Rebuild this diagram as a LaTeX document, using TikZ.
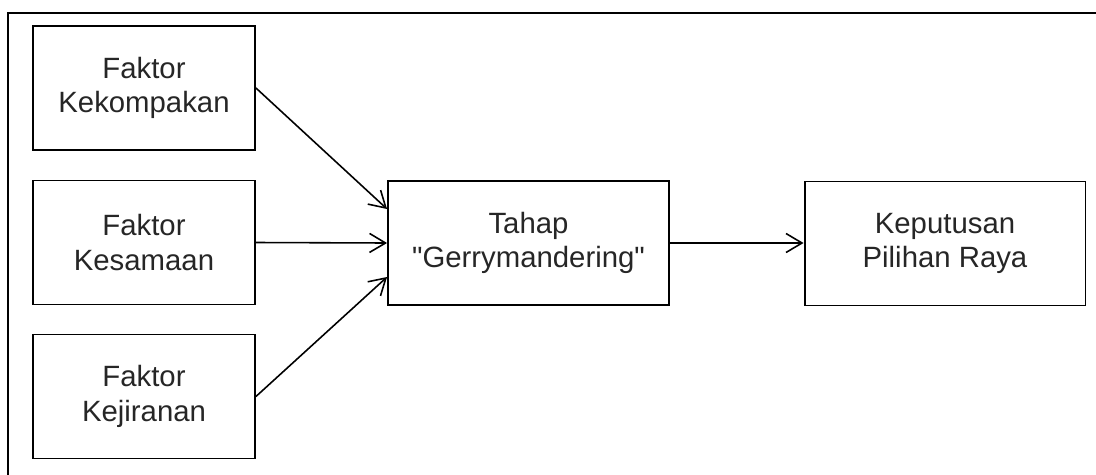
\documentclass[tikz,border=0pt]{standalone}
\usepackage{fontspec}
\setmainfont{Liberation Sans}[Ligatures=TeXOff]
\usetikzlibrary{arrows.meta}
\tikzset{
  box/.style = {rectangle, draw, line width=1.1pt, align = center,
                minimum width = 4.44cm, minimum height = 2.48cm,
                inner sep = 0pt, text = black!85,
                font = \fontsize{16.7}{19.6}\selectfont},
  wide/.style = {box, minimum width = 5.62cm},
  arr/.style  = {-{Straight Barb[length=3.2mm,width=3.8mm,line width=0.9pt]},
                 line width=0.9pt}
}
\begin{document}
\begin{tikzpicture}[x=0.02cm,y=-0.02cm]
  \useasboundingbox (0,0) rectangle (1096,474);
  \draw[line width=1.6pt] (8,480)--(8,13)--(1100,13);
  % faktor
  \node[box] (kompak) at (144,88) {Faktor\\Kekompakan};
  \node[box] (sama) at (144,242.5) {Faktor\\Kesamaan};
  \node[box] (jiran) at (144,396.5) {Faktor\\Kejiranan};
  % tahap dan keputusan
  \node[wide] (tahap) at (528.5,243) {Tahap\\"Gerrymandering"};
  \node[wide] (putus) at (945,243.5) {Keputusan\\Pilihan Raya};
  \draw[arr] (kompak.east) -- ([yshift=0.68cm]tahap.west);
  \draw[arr] (sama.east) -- (tahap.west);
  \draw[arr] (jiran.east) -- ([yshift=-0.68cm]tahap.west);
  \draw[arr] (tahap.east) -- (tahap.east -| putus.west);
\end{tikzpicture}
\end{document}
